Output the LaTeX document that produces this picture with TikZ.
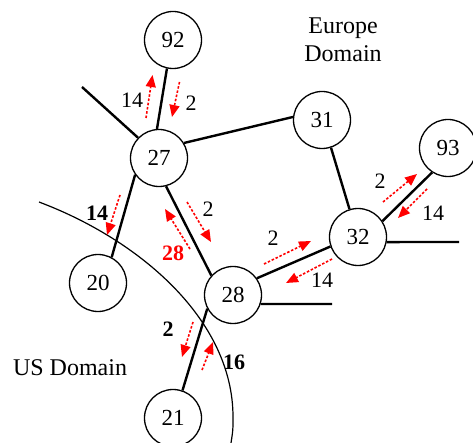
\documentclass[tikz,border=0pt]{standalone}
\usepackage{fontspec}
\setmainfont{Liberation Serif}
\usetikzlibrary{arrows.meta}
\begin{document}
\begin{tikzpicture}[x=1pt,y=-1pt,
  nd/.style={circle,draw,line width=1.3pt,minimum size=57pt,inner sep=0pt,font=\fontsize{23}{26}\selectfont},
  edge/.style={line width=2.4pt},
  flow/.style={red,line width=1.6pt,dash pattern=on 2.5pt off 1.8pt,-{Triangle[length=12pt,width=10pt]}},
  lbl/.style={font=\fontsize{22}{26}\selectfont,inner sep=0pt},
  blbl/.style={font=\fontsize{22}{26}\selectfont\bfseries,inner sep=0pt},
  dom/.style={font=\fontsize{24}{28}\selectfont,inner sep=0pt,align=center}]
\useasboundingbox (0,0) rectangle (473,443);
% nodes
\node[nd] (n92) at (173,40) {92};
\node[nd] (n27) at (159,158) {27};
\node[nd] (n31) at (322,120) {31};
\node[nd] (n93) at (448,148) {93};
\node[nd] (n32) at (358,237) {32};
\node[nd] (n28) at (233,295) {28};
\node[nd] (n20) at (98,283) {20};
\node[nd] (n21) at (173,418) {21};
% stubs
\coordinate (s27) at (82,87);
\coordinate (s28) at (332,304);
\coordinate (s32) at (459,242);
% edges
\draw[edge] (n92.258) -- (n27.94);
\draw[edge] (n27.136) -- (s27);
\draw[edge] (n27.31) -- (n31.174);
\draw[edge] (n27.215) -- (n20.62);
\draw[edge] (n27.284) -- (n28.138);
\draw[edge] (n28.35) -- (n32.199);
\draw[edge] (n28.-18) -- (s28);
\draw[edge] (n32.-10) -- (s32);
\draw[edge] (n32.33) -- (n93.237);
\draw[edge] (n31.-72) -- (n32.107);
\draw[edge] (n28.208) -- (n21.71);
% domain boundary
\coordinate (b0) at (39,202);
\coordinate (b1) at (233,417);
\coordinate (b2) at (231,443);
\draw[line width=1.2pt] (b0) .. controls (140,240) and (233,320) .. (b1)
  .. controls (233,430) .. (b2);
% flow arrows
\coordinate (f1s) at (146,118); \coordinate (f1e) at (152.5,75);
\coordinate (f2s) at (179.5,82); \coordinate (f2e) at (172,117);
\coordinate (f3s) at (120,195); \coordinate (f3e) at (107,235);
\coordinate (f4s) at (187,202); \coordinate (f4e) at (211,242);
\coordinate (f5s) at (190,249); \coordinate (f5e) at (165,209);
\coordinate (f6s) at (264,264); \coordinate (f6e) at (311,241);
\coordinate (f7s) at (332,259); \coordinate (f7e) at (286,283);
\coordinate (f8s) at (383,202); \coordinate (f8e) at (417,174);
\coordinate (f9s) at (427,189); \coordinate (f9e) at (398,218);
\coordinate (f10s) at (193,322); \coordinate (f10e) at (182,357);
\coordinate (f11s) at (202,370); \coordinate (f11e) at (213,342);
\foreach \i in {1,...,11} {\draw[flow] (f\i s) -- (f\i e);}
% labels
\node[lbl] (l1) at (132,100) {14};
\node[lbl] (l2) at (191,103) {2};
\node[blbl] (l3) at (97,213) {14};
\node[lbl] (l4) at (208,209) {2};
\node[blbl,text=red] (l5) at (173,253) {28};
\node[lbl] (l6) at (273,238) {2};
\node[lbl] (l7) at (322,280) {14};
\node[lbl] (l8) at (380,181) {2};
\node[lbl] (l9) at (433,213) {14};
\node[blbl] (l10) at (168,329) {2};
\node[blbl] (l11) at (234,362) {16};
\node[dom] (us) at (70,368) {US Domain};
\node[dom] (eu) at (343,40) {Europe\\Domain};
\end{tikzpicture}
\end{document}
